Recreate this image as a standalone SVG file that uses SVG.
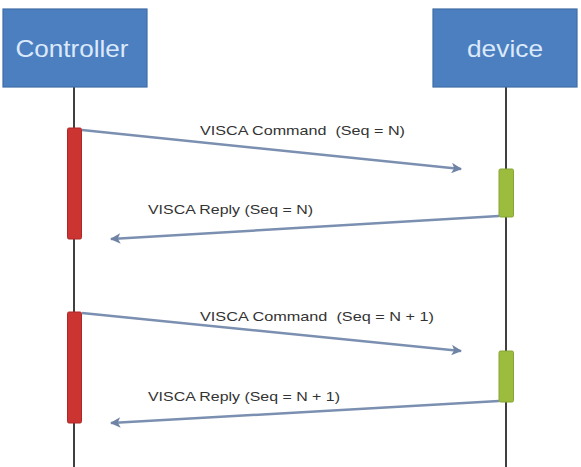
<svg xmlns="http://www.w3.org/2000/svg" width="581" height="467" viewBox="0 0 581 467">
<style>
.box{fill:#4b7fc0;stroke:#3f6da6;stroke-width:1.2}
.title{font-family:"Liberation Sans",Arial,sans-serif;font-size:24px;fill:#dbe9fb;text-anchor:middle}
.life{stroke:#404040;stroke-width:2;fill:none}
.act-r{fill:#cc3431;stroke:#ad2826;stroke-width:1}
.act-g{fill:#9cbc3e;stroke:#86a532;stroke-width:1}
.msg{stroke:#7b8fb0;stroke-width:2.5;fill:none;marker-end:url(#ah)}
.lbl{font-family:"Liberation Sans",Arial,sans-serif;font-size:13.5px;fill:#333333;white-space:pre}
</style>
<defs>
<marker id="ah" viewBox="0 0 10 10" refX="9" refY="5" markerWidth="4.2" markerHeight="4.2" orient="auto" markerUnits="strokeWidth">
<path d="M0,0 L10,5 L0,10 L2.5,5 Z" fill="#6f83a6"/>
</marker>
</defs>
<rect width="581" height="467" fill="#ffffff"/>
<g id="lifelines">
<line class="life" x1="74" y1="87" x2="74" y2="467"/>
<line class="life" x1="506" y1="87" x2="506" y2="467"/>
</g>
<g id="controller">
<rect class="box" x="3" y="9" width="144" height="78"/>
<text class="title" x="72" y="57" textLength="113" lengthAdjust="spacingAndGlyphs">Controller</text>
</g>
<g id="device">
<rect class="box" x="433" y="9" width="144" height="78"/>
<text class="title" x="505" y="57" textLength="76" lengthAdjust="spacingAndGlyphs">device</text>
</g>
<g id="activations">
<rect class="act-r" x="67.5" y="128" width="14" height="111" rx="1.5"/>
<rect class="act-g" x="499" y="169" width="14.5" height="48" rx="1.5"/>
<rect class="act-r" x="67.5" y="312" width="14" height="111" rx="1.5"/>
<rect class="act-g" x="499" y="351" width="14.5" height="51" rx="1.5"/>
</g>
<g id="connectors">
<line class="msg" x1="82" y1="130" x2="461" y2="169"/>
<line class="msg" x1="499" y1="216" x2="111" y2="239"/>
<line class="msg" x1="82" y1="313" x2="461" y2="351"/>
<line class="msg" x1="499" y1="401" x2="111" y2="423"/>
</g>
<g id="labels">
<text class="lbl" xml:space="preserve" x="200" y="135" textLength="205" lengthAdjust="spacingAndGlyphs">VISCA Command  (Seq = N)</text>
<text class="lbl" x="148" y="214" textLength="165" lengthAdjust="spacingAndGlyphs">VISCA Reply (Seq = N)</text>
<text class="lbl" xml:space="preserve" x="200" y="321" textLength="234" lengthAdjust="spacingAndGlyphs">VISCA Command  (Seq = N + 1)</text>
<text class="lbl" x="148" y="401" textLength="192" lengthAdjust="spacingAndGlyphs">VISCA Reply (Seq = N + 1)</text>
</g>
</svg>
